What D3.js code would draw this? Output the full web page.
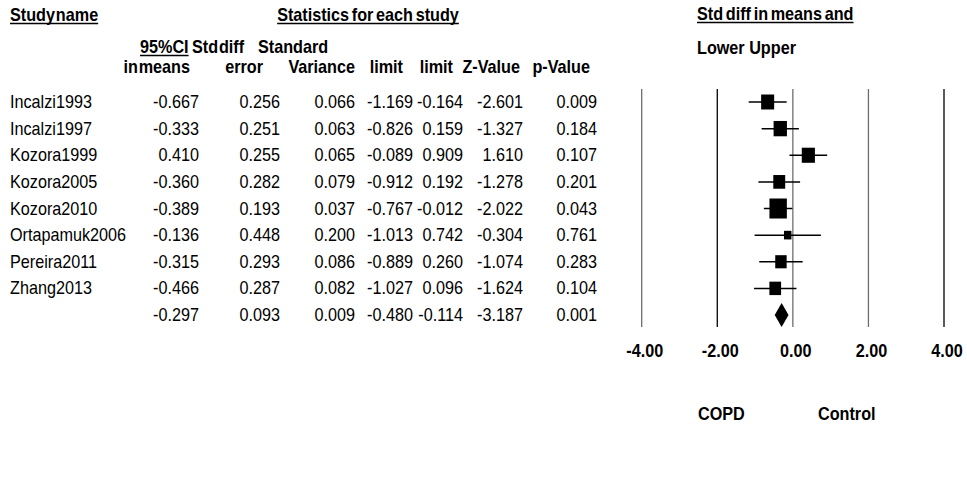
<!DOCTYPE html>
<html>
<head>
<meta charset="utf-8">
<script src="https://cdn.jsdelivr.net/npm/d3@7"></script>
<style>
  html, body { margin: 0; padding: 0; background: #fff; }
  svg { display: block; font-family: "Liberation Sans", Arial, sans-serif; }
</style>
</head>
<body>
<div id="chart"></div>
<script>
// study rows, last row is the pooled estimate
const studyNames = ["Incalzi1993", "Incalzi1997", "Kozora1999", "Kozora2005", "Kozora2010",
                    "Ortapamuk2006", "Pereira2011", "Zhang2013", ""];
const stdDiff  = [-0.667, -0.333, 0.410, -0.360, -0.389, -0.136, -0.315, -0.466, -0.297];
const stdErr   = [0.256, 0.251, 0.255, 0.282, 0.193, 0.448, 0.293, 0.287, 0.093];
const variance = [0.066, 0.063, 0.065, 0.079, 0.037, 0.200, 0.086, 0.082, 0.009];
const lower    = [-1.169, -0.826, -0.089, -0.912, -0.767, -1.013, -0.889, -1.027, -0.480];
const upper    = [-0.164, 0.159, 0.909, 0.192, -0.012, 0.742, 0.260, 0.096, -0.114];
const zValue   = [-2.601, -1.327, 1.610, -1.278, -2.022, -0.304, -1.074, -1.624, -3.187];
const pValue   = [0.009, 0.184, 0.107, 0.201, 0.043, 0.761, 0.283, 0.104, 0.001];
const axisTicks = [-4, -2, 0, 2, 4];

const width = 967, height = 481;
const fontSize = 18;
const squeeze = 0.9;   // original text is a bit narrow

const svg = d3.select("#chart").append("svg")
    .attr("width", width)
    .attr("height", height);

// plain hyphen for negatives, like the original table
const locale = d3.formatLocale({decimal: ".", thousands: ",", grouping: [3], currency: ["", ""], minus: "-"});
const fmt = locale.format(".3f");
const tickFmt = locale.format(".2f");

function label(x, y, s, anchor, bold, underline, wordGap) {
    let t = svg.append("text")
        .attr("transform", `translate(${x},${y}) scale(${squeeze},1)`)
        .attr("text-anchor", anchor || "start")
        .attr("font-size", fontSize)
        .attr("font-weight", bold ? "bold" : "normal")
        .attr("word-spacing", (wordGap === undefined ? -4 : wordGap) + "px")
        .attr("fill", "#000")
        .text(s);
    if (underline) {
        let w = t.node().getComputedTextLength() * squeeze;
        let x0 = anchor === "middle" ? x - w / 2 : (anchor === "end" ? x - w : x);
        svg.append("line")
            .attr("x1", x0).attr("x2", x0 + w)
            .attr("y1", y + 2.5).attr("y2", y + 2.5)
            .attr("stroke", "#000").attr("stroke-width", 1.6);
    }
    return t;
}

// headers
label(10, 21, "Study name", "start", true, true);
label(368, 21, "Statistics for each study", "middle", true, true, -2);
label(697, 20, "Std diff in means and", "start", true, true, -2);
label(140, 53, "95%CI", "start", true, true);
label(192, 53, "Std diff", "start", true);
label(258, 53, "Standard", "start", true);
label(697, 54, "Lower Upper", "start", true, false, 0);

const colRight = [199, 280, 355, 413, 463, 523, 597];
const colHeads = ["in means", "error", "Variance", "limit", "limit", "Z-Value", "p-Value"];
const headRight = [190, 263, 355, 403, 453, 520, 590];
colHeads.forEach((h, i) => label(headRight[i], 73, h, "end", true));

const y = d3.scaleLinear().domain([0, studyNames.length - 1]).range([102, 315]);
const x = d3.scaleLinear().domain([-4, 4]).range([641.7, 944]);

const columns = [stdDiff, stdErr, variance, lower, upper, zValue, pValue];
studyNames.forEach((name, i) => {
    label(10, y(i) + 6, name, "start", false);
    columns.forEach((col, c) => label(colRight[c], y(i) + 6, fmt(col[i]), "end", false));
});

// forest plot grid
const lineColor = {"-4": "#6e6e6e", "-2": "#000", "0": "#6e6e6e", "2": "#6e6e6e", "4": "#000"};
svg.selectAll("line.grid")
    .data(axisTicks)
    .enter()
    .append("line")
    .attr("class", "grid")
    .attr("x1", d => x(d)).attr("x2", d => x(d))
    .attr("y1", 89).attr("y2", 327)
    .attr("stroke", d => lineColor[d])
    .attr("stroke-width", 1.3);

axisTicks.forEach(t => label(x(t) + 3, 357, tickFmt(t), "middle", true));

// study markers
const studies = d3.range(studyNames.length - 1);
const weight = variance.map(v => 1 / v);
const boxSize = d3.scaleSqrt()
    .domain([0, d3.max(studies, i => weight[i])])
    .range([0, 20]);

svg.selectAll("line.ci")
    .data(studies)
    .enter()
    .append("line")
    .attr("class", "ci")
    .attr("x1", i => x(lower[i])).attr("x2", i => x(upper[i]))
    .attr("y1", i => y(i)).attr("y2", i => y(i))
    .attr("stroke", "#000").attr("stroke-width", 1.5);

svg.selectAll("rect.box")
    .data(studies)
    .enter()
    .append("rect")
    .attr("class", "box")
    .attr("x", i => x(stdDiff[i]) - boxSize(weight[i]) * 0.87 / 2)
    .attr("y", i => y(i) - boxSize(weight[i]) / 2)
    .attr("width", i => boxSize(weight[i]) * 0.87)
    .attr("height", i => boxSize(weight[i]))
    .attr("fill", "#000");

// pooled diamond
const last = studyNames.length - 1;
const cy = y(last);
svg.append("path")
    .attr("d", `M${x(lower[last])},${cy} L${x(stdDiff[last])},${cy - 12} L${x(upper[last])},${cy} L${x(stdDiff[last])},${cy + 12} Z`)
    .attr("fill", "#000");

label(698, 420, "COPD", "start", true);
label(818, 420, "Control", "start", true);
</script>
</body>
</html>
